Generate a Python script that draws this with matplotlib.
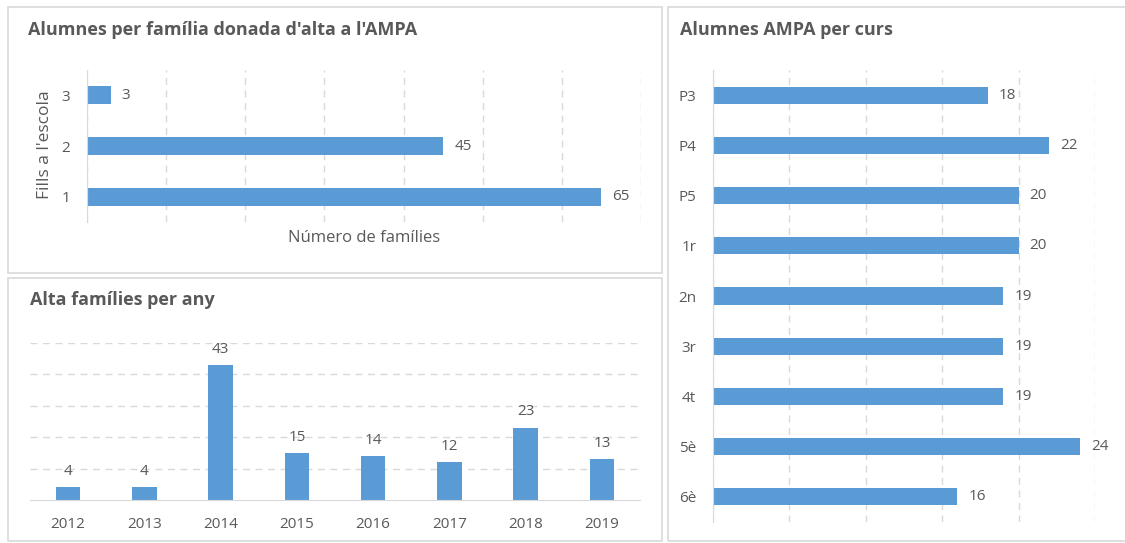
import matplotlib.pyplot as plt
from matplotlib.patches import Rectangle

plt.rcParams['font.family'] = ['Open Sans', 'DejaVu Sans']

# Dades
fills = ['1', '2', '3']
families = [65, 45, 3]

anys = ['2012', '2013', '2014', '2015', '2016', '2017', '2018', '2019']
alta = [4, 4, 43, 15, 14, 12, 23, 13]

cursos = ['P3', 'P4', 'P5', '1r', '2n', '3r', '4t', '5è', '6è']
alumnes = [18, 22, 20, 20, 19, 19, 19, 24, 16]

blau = '#5B9BD5'
gris = '#595959'
graella = '#D9D9D9'

W, H = 1125, 543
fig = plt.figure(figsize=(W / 100, H / 100), dpi=100)


def rect(x0, y0, x1, y1):
    # pixels (origen a dalt) -> fraccions de figura
    return [x0 / W, 1 - y1 / H, (x1 - x0) / W, (y1 - y0) / H]


# Marcs dels panells
for x0, y0, x1, y1 in [(8, 7, 662, 273), (8, 278, 662, 541), (668, 7, 1130, 541)]:
    r = rect(x0, y0, x1, y1)
    fig.patches.append(Rectangle((r[0], r[1]), r[2], r[3], transform=fig.transFigure,
                                 fill=False, edgecolor=graella, linewidth=1.2))

# --- Panell 1: alumnes per família ---
ax1 = fig.add_axes(rect(87, 70, 641, 222))
ax1.barh(range(len(fills)), families, height=0.35, color=blau)
ax1.set_xlim(0, 70)
ax1.set_ylim(-0.5, 2.5)
ax1.set_xticks(range(0, 71, 10))
ax1.set_xticklabels([])
ax1.set_yticks(range(len(fills)))
ax1.set_yticklabels(fills, fontsize=11, color=gris)
ax1.tick_params(length=0, pad=12)
ax1.grid(axis='x', linestyle=(0, (5, 4)), color=graella, linewidth=1)
ax1.set_axisbelow(True)
for s in ['top', 'right', 'bottom']:
    ax1.spines[s].set_visible(False)
ax1.spines['left'].set_color(graella)
ax1.bar_label(ax1.containers[0], padding=8, fontsize=11, color=gris)
fig.text(28 / W, 1 - 30 / H, "Alumnes per família donada d'alta a l'AMPA",
         fontsize=13, fontweight='bold', color=gris, va='center', ha='left')
fig.text(364 / W, 1 - 238 / H, 'Número de famílies', fontsize=12, color=gris,
         ha='center', va='center')
fig.text(45 / W, 1 - 145 / H, "Fills a l'escola", fontsize=12.5, color=gris,
         ha='center', va='center', rotation=90)

# --- Panell 2: alta famílies per any ---
ax2 = fig.add_axes(rect(30, 343, 640, 500))
ax2.bar(anys, alta, width=0.32, color=blau)
ax2.set_xlim(-0.5, len(anys) - 0.5)
ax2.set_ylim(0, 50)
ax2.set_yticks(range(10, 51, 10))
ax2.set_yticklabels([])
ax2.tick_params(length=0)
ax2.tick_params(axis='x', labelsize=11, labelcolor=gris, pad=12)
ax2.grid(axis='y', linestyle=(0, (5, 4)), color=graella, linewidth=1)
ax2.set_axisbelow(True)
for s in ['top', 'right', 'left']:
    ax2.spines[s].set_visible(False)
ax2.spines['bottom'].set_color(graella)
ax2.bar_label(ax2.containers[0], padding=6, fontsize=11, color=gris)
fig.text(30 / W, 1 - 300 / H, 'Alta famílies per any',
         fontsize=13, fontweight='bold', color=gris, va='center', ha='left')

# --- Panell 3: alumnes per curs ---
ax3 = fig.add_axes(rect(713, 70, 1095, 522))
ax3.barh(range(len(cursos)), alumnes, height=0.34, color=blau)
ax3.set_xlim(0, 25)
ax3.set_ylim(len(cursos) - 0.5, -0.5)
ax3.set_xticks(range(0, 26, 5))
ax3.set_xticklabels([])
ax3.set_yticks(range(len(cursos)))
ax3.set_yticklabels(cursos, fontsize=11, color=gris)
ax3.tick_params(length=0, pad=12)
ax3.grid(axis='x', linestyle=(0, (5, 4)), color=graella, linewidth=1)
ax3.set_axisbelow(True)
for s in ['top', 'right', 'bottom']:
    ax3.spines[s].set_visible(False)
ax3.spines['left'].set_color(graella)
ax3.bar_label(ax3.containers[0], padding=8, fontsize=11, color=gris)
fig.text(680 / W, 1 - 30 / H, 'Alumnes AMPA per curs',
         fontsize=13, fontweight='bold', color=gris, va='center', ha='left')

fig.savefig('out.png', dpi=100, facecolor='white')
